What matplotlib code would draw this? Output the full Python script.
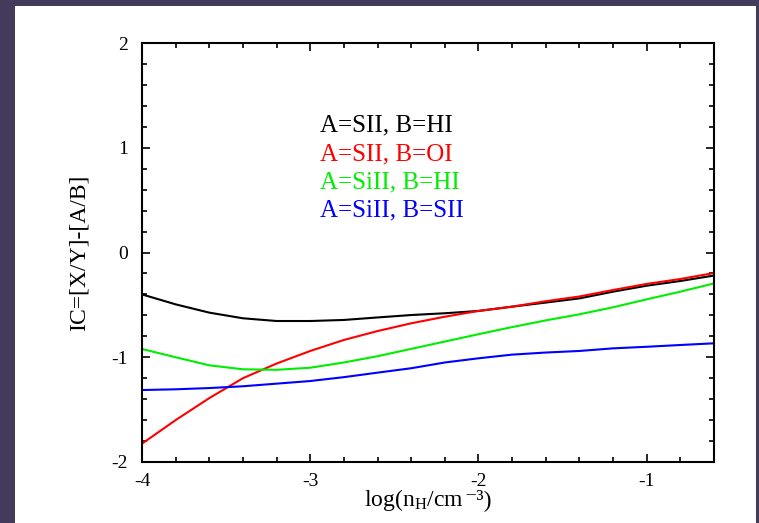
import numpy as np
import matplotlib
matplotlib.use("Agg")
import matplotlib.pyplot as plt
from matplotlib.patches import Rectangle
from matplotlib.offsetbox import TextArea, HPacker, AnnotationBbox

plt.rcParams['font.family'] = ['Liberation Serif', 'DejaVu Serif']
plt.rcParams['mathtext.fontset'] = 'custom'
plt.rcParams['mathtext.rm'] = 'Liberation Serif'
plt.rcParams['mathtext.it'] = 'Liberation Serif:italic'

# Data
log_nH = [-4.0, -3.8, -3.6, -3.4, -3.2, -3.0, -2.8, -2.6, -2.4,
          -2.2, -2.0, -1.8, -1.6, -1.4, -1.2, -1.0, -0.8, -0.6]
ic_sii_hi = [-0.40, -0.495, -0.574, -0.628, -0.654, -0.654, -0.644, -0.62, -0.597,
             -0.58, -0.558, -0.517, -0.478, -0.438, -0.374, -0.317, -0.272, -0.22]
ic_sii_oi = [-1.825, -1.60, -1.39, -1.20, -1.06, -0.94, -0.835, -0.75, -0.676,
             -0.613, -0.558, -0.517, -0.465, -0.42, -0.358, -0.30, -0.253, -0.196]
ic_siii_hi = [-0.921, -1.0, -1.077, -1.115, -1.12, -1.10, -1.05, -0.99, -0.92,
              -0.85, -0.78, -0.712, -0.648, -0.59, -0.523, -0.447, -0.374, -0.295]
ic_siii_sii = [-1.313, -1.306, -1.294, -1.277, -1.252, -1.227, -1.19, -1.147, -1.105,
               -1.05, -1.01, -0.975, -0.955, -0.94, -0.915, -0.90, -0.883, -0.867]

series_labels = ["A=SII, B=HI", "A=SII, B=OI", "A=SiII, B=HI", "A=SiII, B=SII"]
series_colors = ["#000000", "#ff0000", "#00ee00", "#0000ff"]
series_values = [ic_sii_hi, ic_sii_oi, ic_siii_hi, ic_siii_sii]

x_ticks = [-4, -3, -2, -1]
y_ticks = [-2, -1, 0, 1, 2]

W, H = 759, 523
fig = plt.figure(figsize=(W / 100, H / 100), dpi=100)
fig.patch.set_facecolor('#443a5c')
fig.patches.append(Rectangle((15 / W, 0), (756 - 15) / W, (H - 6) / H,
                             transform=fig.transFigure, facecolor='white',
                             edgecolor='none', zorder=-5))

ax = fig.add_axes([142 / W, 1 - 462 / H, (714 - 142) / W, (462 - 43) / H])
ax.set_zorder(2)
ax.set_facecolor('white')

for vals, col in zip(series_values, series_colors):
    ax.plot(log_nH, vals, color=col, lw=1.5, solid_joinstyle='round')

ax.set_xlim(-4, -0.6)
ax.set_ylim(-2, 2)
ax.set_xticks(x_ticks)
ax.set_yticks(y_ticks)
ax.set_xticklabels([str(t) for t in x_ticks])
ax.set_yticklabels([str(t) for t in y_ticks])
ax.set_xticks(np.arange(-4, -0.59, 0.2), minor=True)
ax.set_yticks(np.arange(-2, 2.01, 0.2), minor=True)

for s in ax.spines.values():
    s.set_linewidth(1.5)
ax.tick_params(which='both', direction='in', top=True, right=True, width=1.2,
               labelsize=14, colors='black')
ax.tick_params(axis='y', which='both', pad=10)
ax.tick_params(axis='x', which='both', pad=8)
ax.tick_params(which='major', length=6)
ax.tick_params(which='minor', length=3.5)

# x label built from two pieces so the superscript stays low and compact
fam = ['Liberation Serif', 'DejaVu Serif']
ta1 = TextArea('log(n$_{\\rm H}$/cm', textprops=dict(fontsize=17, family=fam))
ta2 = TextArea('\u207b\u00b3)', textprops=dict(fontsize=17, family=fam))
xlab = HPacker(children=[ta1, ta2], align='baseline', pad=0, sep=0)
ab = AnnotationBbox(xlab, (0.5, (462 - 500) / 419), xycoords='axes fraction',
                    frameon=False, box_alignment=(0.5, 0.5), pad=0)
ax.add_artist(ab)

ax.set_ylabel('IC=[X/Y]-[A/B]', fontsize=17)
ax.yaxis.label.set_va('center')
ax.yaxis.set_label_coords((79 - 142) / 572, 0.5)

ys = [125.7, 154.3, 182.7, 210.3]
for lab, col, yp in zip(series_labels, series_colors, ys):
    ax.text((320 - 142) / 572, 1 - (yp - 43) / 419, lab, color=col,
            fontsize=18, transform=ax.transAxes, va='center', ha='left')

fig.savefig('out.png', dpi=100, facecolor=fig.get_facecolor())
